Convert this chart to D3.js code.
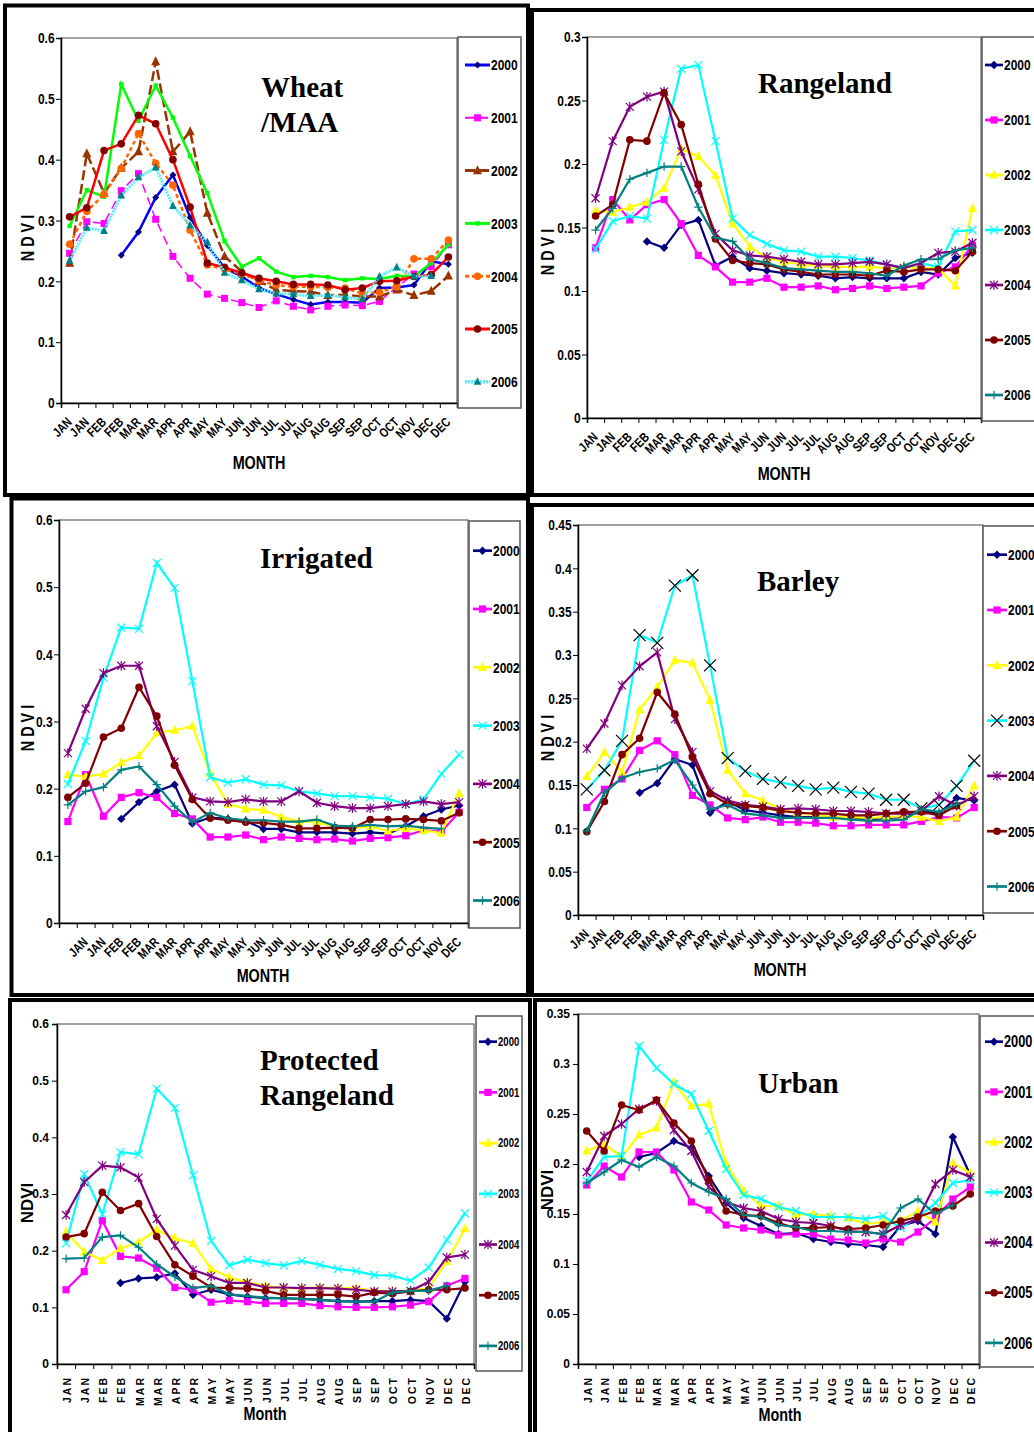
<!DOCTYPE html>
<html>
<head>
<meta charset="utf-8">
<script src="https://cdn.jsdelivr.net/npm/d3@7"></script>
<style>
body { margin: 0; background: #fff; }
text { font-family: 'Liberation Sans', 'Arial', sans-serif; font-weight: bold; fill: #000; }
.title { font-family: 'Liberation Serif', 'Times New Roman', serif; font-size: 29px; }
</style>
</head>
<body>
<div id="chart"></div>
<script>
// x categories (two composites per month)
var monthLabels = ["JAN","JAN","FEB","FEB","MAR","MAR","APR","APR","MAY","MAY","JUN","JUN","JUL","JUL","AUG","AUG","SEP","SEP","OCT","OCT","NOV","DEC","DEC"];
var irrigatedLabels = ["","JAN","JAN","FEB","FEB","MAR","MAR","APR","APR","MAY","MAY","JUN","JUN","JUL","JUL","AUG","AUG","SEP","SEP","OCT","OCT","NOV","DEC"];
var years = ["2000","2001","2002","2003","2004","2005","2006"];

var ticks06 = [0, 0.1, 0.2, 0.3, 0.4, 0.5, 0.6];
var ticks03 = [0, 0.05, 0.1, 0.15, 0.2, 0.25, 0.3];
var ticks045 = [0, 0.05, 0.1, 0.15, 0.2, 0.25, 0.3, 0.35, 0.4, 0.45];
var ticks035 = [0, 0.05, 0.1, 0.15, 0.2, 0.25, 0.3, 0.35];

// NDVI per year (rows 2000..2006)
var wheatNdvi = [
  [null,null,null,0.243,0.281,0.338,0.375,0.305,0.259,0.222,0.208,0.189,0.179,0.170,0.162,0.166,0.166,0.165,0.189,0.190,0.194,0.233,0.228],
  [0.246,0.298,0.295,0.349,0.377,0.302,0.241,0.205,0.179,0.172,0.165,0.157,0.168,0.159,0.153,0.159,0.161,0.160,0.167,0.190,0.212,0.224,0.260],
  [0.230,0.410,0.345,0.386,0.413,0.561,0.413,0.446,0.312,0.241,0.216,0.200,0.186,0.184,0.183,0.177,0.178,0.175,0.175,0.186,0.177,0.184,0.209],
  [0.291,0.350,0.339,0.524,0.464,0.522,0.469,0.406,0.345,0.266,0.224,0.238,0.216,0.207,0.209,0.207,0.202,0.205,0.204,0.209,0.208,0.230,0.260],
  [0.261,0.315,0.343,0.386,0.443,0.394,0.358,0.284,0.227,0.220,0.212,0.201,0.194,0.191,0.191,0.190,0.189,0.180,0.182,0.191,0.237,0.237,0.268],
  [0.306,0.321,0.415,0.426,0.473,0.459,0.400,0.322,0.230,0.223,0.214,0.205,0.200,0.195,0.195,0.194,0.186,0.189,0.200,0.201,0.208,0.211,0.240],
  [0.234,0.288,0.283,0.341,0.371,0.387,0.324,0.292,0.264,0.214,0.202,0.187,0.180,0.179,0.176,0.177,0.174,0.171,0.208,0.223,0.208,0.209,null]
];
var rangelandNdvi = [
  [null,null,null,0.139,0.134,0.152,0.156,0.120,0.127,0.118,0.116,0.114,0.113,0.112,0.110,0.111,0.110,0.110,0.110,0.115,0.113,0.126,0.130],
  [0.134,0.172,0.156,0.168,0.172,0.153,0.128,0.119,0.107,0.107,0.110,0.103,0.103,0.104,0.101,0.102,0.104,0.102,0.103,0.104,0.114,0.119,0.136],
  [0.163,0.162,0.166,0.170,0.181,0.212,0.206,0.191,0.153,0.135,0.126,0.123,0.121,0.120,0.119,0.119,0.119,0.118,0.119,0.118,0.118,0.104,0.165],
  [0.133,0.155,0.159,0.157,0.219,0.275,0.278,0.218,0.157,0.144,0.137,0.132,0.131,0.127,0.127,0.126,0.124,0.121,0.118,0.122,0.119,0.147,0.148],
  [0.173,0.218,0.245,0.253,0.257,0.210,0.180,0.145,0.132,0.128,0.127,0.125,0.123,0.121,0.121,0.122,0.123,0.121,0.118,0.122,0.130,0.131,0.138],
  [0.159,0.168,0.219,0.218,0.256,0.231,0.184,0.141,0.124,0.122,0.121,0.117,0.115,0.113,0.113,0.113,0.112,0.116,0.115,0.117,0.117,0.116,0.131],
  [0.148,0.165,0.188,0.193,0.198,0.198,0.166,0.142,0.139,0.125,0.122,0.118,0.117,0.116,0.115,0.115,0.114,0.112,0.120,0.125,0.125,0.132,0.134]
];
var irrigatedNdvi = [
  [null,null,null,0.155,0.180,0.196,0.206,0.148,0.157,0.155,0.152,0.140,0.140,0.135,0.135,0.135,0.133,0.135,0.133,0.144,0.159,0.169,0.175],
  [0.151,0.221,0.159,0.187,0.194,0.187,0.163,0.155,0.128,0.128,0.131,0.124,0.128,0.126,0.124,0.125,0.122,0.126,0.127,0.130,0.138,0.136,0.165],
  [0.221,0.218,0.222,0.239,0.249,0.283,0.287,0.293,0.223,0.177,0.170,0.168,0.158,0.151,0.151,0.143,0.141,0.144,0.137,0.141,0.138,0.134,0.193],
  [0.207,0.271,0.365,0.440,0.438,0.536,0.499,0.360,0.217,0.209,0.214,0.206,0.205,0.196,0.193,0.189,0.189,0.187,0.185,0.177,0.184,0.222,0.251],
  [0.253,0.319,0.372,0.383,0.383,0.293,0.240,0.187,0.181,0.180,0.184,0.181,0.181,0.196,0.179,0.174,0.171,0.171,0.174,0.177,0.181,0.177,0.180],
  [0.187,0.208,0.277,0.290,0.351,0.308,0.235,0.184,0.156,0.153,0.150,0.149,0.146,0.141,0.141,0.142,0.141,0.154,0.154,0.155,0.154,0.152,0.164],
  [0.176,0.196,0.202,0.228,0.233,0.206,0.174,0.150,0.164,0.156,0.153,0.153,0.151,0.151,0.154,0.145,0.144,0.146,0.144,0.145,0.142,0.140,null]
];
var barleyNdvi = [
  [null,null,null,0.141,0.152,0.180,0.173,0.118,0.131,0.121,0.118,0.115,0.113,0.113,0.113,0.112,0.110,0.112,0.113,0.120,0.117,0.135,0.132],
  [0.124,0.145,0.157,0.190,0.201,0.185,0.138,0.127,0.112,0.110,0.113,0.107,0.107,0.106,0.103,0.103,0.104,0.104,0.104,0.108,0.113,0.112,0.124],
  [0.160,0.188,0.165,0.237,0.263,0.294,0.291,0.248,0.167,0.140,0.132,0.122,0.118,0.115,0.113,0.113,0.112,0.113,0.114,0.113,0.108,0.113,0.149],
  [0.145,0.167,0.201,0.323,0.314,0.380,0.392,0.288,0.181,0.166,0.157,0.153,0.149,0.145,0.147,0.142,0.140,0.133,0.133,0.123,0.127,0.149,0.178],
  [0.192,0.221,0.265,0.287,0.303,0.226,0.188,0.143,0.132,0.127,0.125,0.122,0.123,0.122,0.120,0.120,0.119,0.117,0.117,0.120,0.137,0.126,0.137],
  [0.096,0.131,0.185,0.204,0.257,0.232,0.182,0.140,0.128,0.126,0.124,0.120,0.118,0.117,0.117,0.115,0.115,0.117,0.119,0.119,0.115,0.126,null],
  [0.097,0.141,0.158,0.165,0.169,0.179,0.150,0.122,0.127,0.117,0.115,0.112,0.112,0.112,0.112,0.110,0.109,0.109,0.110,0.122,0.119,0.128,null]
];
var protectedNdvi = [
  [null,null,null,0.143,0.151,0.153,0.160,0.122,0.131,0.123,0.119,0.116,0.116,0.115,0.113,0.111,0.110,0.111,0.111,0.113,0.111,0.080,0.145],
  [0.131,0.163,0.253,0.190,0.187,0.169,0.135,0.131,0.109,0.112,0.110,0.107,0.107,0.107,0.103,0.101,0.100,0.100,0.101,0.104,0.110,0.138,0.151],
  [0.233,0.198,0.183,0.204,0.215,0.237,0.222,0.213,0.168,0.153,0.144,0.138,0.134,0.134,0.135,0.134,0.134,0.129,0.129,0.129,0.134,0.181,0.239],
  [0.213,0.335,0.264,0.374,0.370,0.486,0.452,0.333,0.217,0.174,0.184,0.178,0.174,0.182,0.175,0.168,0.164,0.157,0.156,0.147,0.170,0.219,0.266],
  [0.263,0.321,0.350,0.347,0.329,0.256,0.209,0.166,0.155,0.143,0.143,0.135,0.135,0.134,0.134,0.133,0.131,0.128,0.128,0.129,0.145,0.188,0.193],
  [0.224,0.230,0.303,0.271,0.283,0.225,0.175,0.155,0.135,0.134,0.133,0.129,0.122,0.122,0.122,0.122,0.119,0.126,0.124,0.128,0.131,0.131,0.134],
  [0.186,0.187,0.224,0.227,0.206,0.176,0.154,0.134,0.138,0.123,0.120,0.117,0.116,0.115,0.113,0.111,0.110,0.110,0.126,0.129,0.129,0.138,null]
];
var urbanNdvi = [
  [null,null,null,0.207,0.211,0.223,0.216,0.188,0.161,0.146,0.138,0.130,0.131,0.125,0.122,0.120,0.119,0.117,0.138,0.143,0.130,0.227,0.189],
  [0.179,0.198,0.187,0.212,0.212,0.194,0.162,0.154,0.139,0.136,0.134,0.129,0.130,0.130,0.125,0.124,0.121,0.125,0.122,0.132,0.146,0.165,0.177],
  [0.213,0.220,0.207,0.229,0.236,0.282,0.258,0.260,0.200,0.173,0.158,0.158,0.149,0.150,0.148,0.146,0.140,0.142,0.143,0.153,0.142,0.201,0.191],
  [0.183,0.207,0.208,0.318,0.296,0.280,0.270,0.233,0.195,0.169,0.165,0.157,0.153,0.147,0.147,0.147,0.145,0.148,0.136,0.147,0.161,0.181,0.184],
  [0.192,0.228,0.240,0.255,0.263,0.234,0.213,0.177,0.162,0.156,0.153,0.145,0.142,0.141,0.138,0.133,0.132,0.130,0.139,0.145,0.180,0.194,0.187],
  [0.233,0.213,0.259,0.254,0.264,0.241,0.223,0.184,0.153,0.149,0.148,0.141,0.136,0.136,0.137,0.135,0.136,0.139,0.143,0.147,0.153,0.158,0.170],
  [0.181,0.192,0.204,0.197,0.207,0.198,0.181,0.172,0.165,0.149,0.147,0.139,0.137,0.133,0.133,0.132,0.132,0.130,0.156,0.165,0.150,0.159,null]
];

// series looks
var wheatStyles = [
  {line: "#0000FF", fill: "#000080", mark: "diamond", w: 2.5, size: 3.5},
  {line: "#FF00FF", fill: "#FF00FF", mark: "square", w: 1.5, size: 3.5, dash: "9,5"},
  {line: "#993300", fill: "#993300", mark: "triangle", w: 2.5, size: 4.5, dash: "10,4"},
  {line: "#00FF00", fill: "#00FF00", mark: "square", w: 2.5, size: 2.2},
  {line: "#FF6600", fill: "#FF6600", mark: "circle", w: 2.5, size: 3.8, dash: "4,3"},
  {line: "#FF0000", fill: "#800000", mark: "circle", w: 2.5, size: 3.8},
  {line: "#55EEFF", fill: "#008080", mark: "triangle", w: 3, size: 3.8, dash: "2,1"}
];
var stdStyles = [
  {line: "#000080", fill: "#000080", mark: "diamond", w: 2.2, size: 4.2},
  {line: "#FF00FF", fill: "#FF00FF", mark: "square", w: 2.2, size: 3.6},
  {line: "#FFFF00", fill: "#FFFF00", mark: "triangle", w: 2.2, size: 4.5},
  {line: "#00FFFF", fill: "#00FFFF", mark: "x", w: 2.2, size: 4},
  {line: "#800080", fill: "#800080", mark: "asterisk", w: 2.2, size: 4},
  {line: "#800000", fill: "#800000", mark: "circle", w: 2.2, size: 3.8},
  {line: "#008080", fill: "#008080", mark: "plus", w: 2.2, size: 4.2}
];
var barleyStyles = stdStyles.map(function(s, i) {
  return i == 3 ? Object.assign({}, s, {fill: "#000000", size: 6}) : s;
});

var panels = [
  {data: wheatNdvi, styles: wheatStyles, labels: monthLabels, ticks: ticks06, title: ["Wheat", "/MAA"], tx: 261, ty: 97,
   frame: [5, 5.5, 523, 489.5], plot: [61, 457, 38, 403], leg: [458, 37, 63, 371], legY: 65, legDy: 52.8, legX: [465, 490], legFont: 15,
   ylab: "N D V I", ylx: 28, yly: 238, xlab: "MONTH", xlx: 259, xly: 469, vert: false},
  {data: rangelandNdvi, styles: stdStyles, labels: monthLabels, ticks: ticks03, title: ["Rangeland"], tx: 758, ty: 93,
   frame: [532, 10, 510, 485], plot: [587, 981, 37, 418], leg: [982, 37, 60, 384], legY: 65, legDy: 55, legX: [985, 1003], legFont: 15,
   ylab: "N D V I", ylx: 548, yly: 252, xlab: "MONTH", xlx: 784, xly: 480, vert: false},
  {data: irrigatedNdvi, styles: stdStyles, labels: irrigatedLabels, ticks: ticks06, title: ["Irrigated"], tx: 260, ty: 568,
   frame: [11.5, 498.5, 516.5, 496.5], plot: [59, 468, 520, 923], leg: [469, 521, 51, 407], legY: 550.7, legDy: 58.3, legX: [473, 492], legFont: 15,
   ylab: "N D V I", ylx: 28, yly: 728, xlab: "MONTH", xlx: 263, xly: 982, vert: false},
  {data: barleyNdvi, styles: barleyStyles, labels: monthLabels, ticks: ticks045, title: ["Barley"], tx: 757, ty: 591,
   frame: [532, 505, 510, 490], plot: [578, 983, 525, 915], leg: [983, 526, 60, 387], legY: 554.7, legDy: 55.3, legX: [987, 1007], legFont: 15,
   ylab: "N D V I", ylx: 548, yly: 738, xlab: "MONTH", xlx: 780, xly: 976, vert: false},
  {data: protectedNdvi, styles: stdStyles, labels: monthLabels, ticks: ticks06, title: ["Protected", "Rangeland"], tx: 260, ty: 1070,
   frame: [10, 1000, 520, 450], plot: [57, 474, 1024, 1364], leg: [476, 1016, 46, 355], legY: 1041.7, legDy: 50.7, legX: [479, 497], legFont: 12,
   ylab: "NDVI", ylx: 27, yly: 1203, xlab: "Month", xlx: 265, xly: 1420, vert: true},
  {data: urbanNdvi, styles: stdStyles, labels: monthLabels, ticks: ticks035, title: ["Urban"], tx: 758, ty: 1093,
   frame: [535, 1000, 510, 450], plot: [578, 979, 1014, 1364], leg: [980, 1016, 60, 351], legY: 1041.7, legDy: 50.2, legX: [985, 1003], legFont: 16,
   ylab: "NDVI", ylx: 547, yly: 1190, xlab: "Month", xlx: 780, xly: 1421, vert: true}
];

var NARROW = 0.8;

var svg = d3.select("#chart").append("svg")
    .attr("width", 1034)
    .attr("height", 1432);

function marker(g, st, x, y) {
    var s = st.size;
    if (st.mark == "circle") {
        g.append("circle").attr("cx", x).attr("cy", y).attr("r", s).attr("fill", st.fill);
    } else if (st.mark == "square") {
        g.append("rect").attr("x", x - s).attr("y", y - s).attr("width", 2 * s).attr("height", 2 * s).attr("fill", st.fill);
    } else if (st.mark == "diamond") {
        g.append("path").attr("d", "M" + x + "," + (y - s) + "L" + (x + s) + "," + y + "L" + x + "," + (y + s) + "L" + (x - s) + "," + y + "Z")
            .attr("fill", st.fill);
    } else if (st.mark == "triangle") {
        g.append("path").attr("d", "M" + x + "," + (y - s * 1.2) + "L" + (x + s) + "," + (y + s * 0.8) + "L" + (x - s) + "," + (y + s * 0.8) + "Z")
            .attr("fill", st.fill);
    } else {
        var d = "";
        if (st.mark == "x" || st.mark == "asterisk")
            d += "M" + (x - s) + "," + (y - s) + "L" + (x + s) + "," + (y + s) + "M" + (x - s) + "," + (y + s) + "L" + (x + s) + "," + (y - s);
        if (st.mark == "asterisk") d += "M" + x + "," + (y - s * 1.2) + "L" + x + "," + (y + s * 1.2);
        if (st.mark == "plus") d += "M" + (x - s) + "," + y + "L" + (x + s) + "," + y + "M" + x + "," + (y - s) + "L" + x + "," + (y + s);
        g.append("path").attr("d", d).attr("stroke", st.fill).attr("stroke-width", 1.2).attr("fill", "none");
    }
}

panels.forEach(function(p) {
    var g = svg.append("g");
    var x0 = p.plot[0], x1 = p.plot[1], yTop = p.plot[2], yBot = p.plot[3];

    g.append("rect").attr("x", p.frame[0]).attr("y", p.frame[1]).attr("width", p.frame[2]).attr("height", p.frame[3])
        .attr("fill", "#fff").attr("stroke", "#000").attr("stroke-width", 4);

    var x = d3.scaleBand().domain(d3.range(p.labels.length)).range([x0, x1]);
    var xTicks = d3.scaleLinear().domain([0, p.labels.length]).range([x0, x1]);
    var y = d3.scaleLinear().domain([0, p.ticks[p.ticks.length - 1]]).range([yBot, yTop]);

    // plot box
    g.append("rect").attr("x", x0).attr("y", yTop).attr("width", x1 - x0).attr("height", yBot - yTop)
        .attr("fill", "#fff").attr("stroke", "#444").attr("stroke-width", 1);

    var yAxis = g.append("g").attr("transform", "translate(" + x0 + ",0)")
        .call(d3.axisLeft(y).tickValues(p.ticks).tickSize(5).tickPadding(3).tickFormat(function(d) { return String(d); }));
    yAxis.select(".domain").attr("stroke-width", 1.5);
    yAxis.selectAll("text").style("font-size", p.vert ? "12px" : "15px")
        .attr("transform", p.vert ? null : "scale(" + NARROW + ",1)");

    var xAxis = g.append("g").attr("transform", "translate(0," + yBot + ")")
        .call(d3.axisBottom(xTicks).tickValues(d3.range(p.labels.length + 1)).tickSize(5).tickFormat(""));
    xAxis.select(".domain").attr("stroke-width", 1.5);

    var bw = x.bandwidth();
    p.labels.forEach(function(lab, i) {
        var cx = x(i) + bw / 2;
        if (p.vert) {
            g.append("text").attr("transform", "translate(" + (cx + 5) + "," + (yBot + 12) + ") rotate(-90)")
                .attr("text-anchor", "end").style("font-size", "10.5px").style("letter-spacing", "2px").text(lab);
        } else {
            g.append("text").attr("transform", "translate(" + (cx + 3) + "," + (yBot + 20) + ") rotate(-45) scale(" + NARROW + ",1)")
                .attr("text-anchor", "end").style("font-size", "13px").text(lab);
        }
    });

    // series
    var line = d3.line()
        .defined(function(d) { return d != null; })
        .x(function(d, i) { return x(i) + bw / 2; })
        .y(function(d) { return y(d); });
    p.data.forEach(function(vals, k) {
        var st = p.styles[k];
        var sg = g.append("g");
        sg.append("path").datum(vals).attr("d", line).attr("fill", "none")
            .attr("stroke", st.line).attr("stroke-width", st.w)
            .attr("stroke-dasharray", st.dash || null);
        vals.forEach(function(v, i) {
            if (v != null) marker(sg, st, x(i) + bw / 2, y(v));
        });
    });

    // legend
    g.append("rect").attr("x", p.leg[0]).attr("y", p.leg[1]).attr("width", p.leg[2]).attr("height", p.leg[3])
        .attr("fill", "#fff").attr("stroke", "#555").attr("stroke-width", 1.5);
    years.forEach(function(yr, k) {
        var st = p.styles[k];
        var ly = p.legY + k * p.legDy;
        g.append("line").attr("x1", p.legX[0]).attr("x2", p.legX[1]).attr("y1", ly).attr("y2", ly)
            .attr("stroke", st.line).attr("stroke-width", st.w + 0.5).attr("stroke-dasharray", st.dash || null);
        marker(g, st, (p.legX[0] + p.legX[1]) / 2, ly);
        g.append("text").attr("transform", "translate(" + (p.legX[1] + 1) + "," + (ly + p.legFont * 0.36) + ") scale(" + NARROW + ",1)")
            .style("font-size", p.legFont + "px").text(yr);
    });

    // titles
    p.title.forEach(function(t, i) {
        g.append("text").attr("class", "title").attr("x", p.tx).attr("y", p.ty + i * 35).text(t);
    });
    g.append("text").attr("transform", "translate(" + (p.ylx + 6) + "," + p.yly + ") rotate(-90)" + (p.vert ? "" : " scale(" + NARROW + ",1)"))
        .attr("text-anchor", "middle").style("font-size", p.vert ? "17px" : "18px").text(p.ylab);
    g.append("text").attr("transform", "translate(" + p.xlx + "," + p.xly + ") scale(" + NARROW + ",1)")
        .attr("text-anchor", "middle").style("font-size", "18px").text(p.xlab);
});
</script>
</body>
</html>
